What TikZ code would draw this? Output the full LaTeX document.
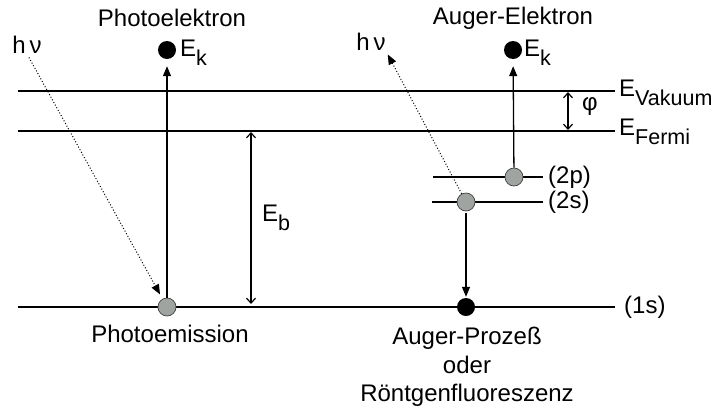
\documentclass[tikz,border=0pt]{standalone}
\usepackage{fontspec}
\setmainfont{Liberation Sans}
\usetikzlibrary{arrows.meta}
\newcommand\lowsub[1]{\raisebox{-0.36em}{\fontsize{21.5}{21.5}\selectfont #1}}
\definecolor{dotgray}{RGB}{160,164,160}
\tikzset{
  lbl/.style={inner sep=0pt, font=\fontsize{24}{28.5}\selectfont},
  level/.style={line width=1.9pt},
  grayball/.style={circle, draw=black!75, line width=0.7pt, fill=dotgray, minimum size=18pt, inner sep=0pt},
  blackball/.style={circle, fill=black, minimum size=18pt, inner sep=0pt},
  arr/.style={line width=1.3pt, -{Triangle[length=10pt,width=8pt]}},
  darr/.style={line width=1.2pt, {Straight Barb[length=5pt,width=9pt]}-{Straight Barb[length=5pt,width=9pt]}},
  dotarr/.style={line width=1pt, dotted, -{Triangle[length=10pt,width=8pt]}}
}
\begin{document}
\begin{tikzpicture}[x=1pt,y=-1pt]
\useasboundingbox (0,0) rectangle (711,410);
% levels
\coordinate (vacL) at (18,91);  \coordinate (vacR) at (615,91);
\coordinate (ferL) at (18,131); \coordinate (ferR) at (615,131);
\coordinate (sL) at (18,307);   \coordinate (sR) at (615,307);
\coordinate (pL) at (433,177);  \coordinate (pR) at (543,177);
\coordinate (tL) at (432,202);  \coordinate (tR) at (543,202);
\draw[level] (vacL) -- (vacR);
\draw[level] (ferL) -- (ferR);
\draw[level] (sL) -- (sR);
\draw[level] (pL) -- (pR);
\draw[level] (tL) -- (tR);
% level labels
\node[lbl, anchor=west] (evac) at (619,93) {E\lowsub{Vakuum}};
\node[lbl, anchor=west] (efer) at (619,132) {E\lowsub{Fermi}};
\node[lbl, anchor=west] (l2p) at (548,177) {(2p)};
\node[lbl, anchor=west] (l2s) at (548,202) {(2s)};
\node[lbl, anchor=west] (l1s) at (624,307) {(1s)};
% left: photoemission
\node[grayball] (pc) at (167,307) {};
\node[blackball] (ek1) at (167,50) {};
\node[lbl, anchor=west] (ek1l) at (180,53) {E\lowsub{k}};
\node[lbl] (pel) at (172,18) {Photoelektron};
\node[lbl] (hv1) at (27,45) {h\,ν};
\node[lbl] (peml) at (170,334) {Photoemission};
\draw[arr, shorten >=7pt] (pc) -- (ek1);
\draw[dotarr, shorten <=4pt, shorten >=5pt] (hv1.south) -- (pc);
% E_b
\coordinate (ebT) at (251,132);
\coordinate (ebB) at (251,304);
\draw[darr] (ebT) -- (ebB);
\node[lbl, anchor=west] (ebl) at (262,218) {E\lowsub{b}};
% phi
\coordinate (phT) at (568,92);
\coordinate (phB) at (568,130);
\draw[darr] (phT) -- (phB);
\node[lbl, anchor=west] (phl) at (582,107) {φ};
% right: Auger
\node[grayball] (c2p) at (514,177) {};
\node[grayball] (c2s) at (466,202) {};
\node[blackball] (c1s) at (466,307) {};
\node[blackball] (ad) at (513,50) {};
\node[lbl, anchor=west] (ek2l) at (524,53) {E\lowsub{k}};
\node[lbl] (ael) at (513,18) {Auger-Elektron};
\node[lbl] (hv2) at (371,42) {h\,ν};
\node[lbl, align=center, anchor=north] (apl) at (467,327) {Auger-Prozeß\\oder\\Röntgenfluoreszenz};
\draw[arr, shorten >=7pt] (c2p) -- (ad);
\draw[arr, shorten <=2pt, shorten >=1pt] (c2s) -- (c1s);
\draw[dotarr, shorten >=4pt] (c2s) -- (hv2.south east);
\end{tikzpicture}
\end{document}
